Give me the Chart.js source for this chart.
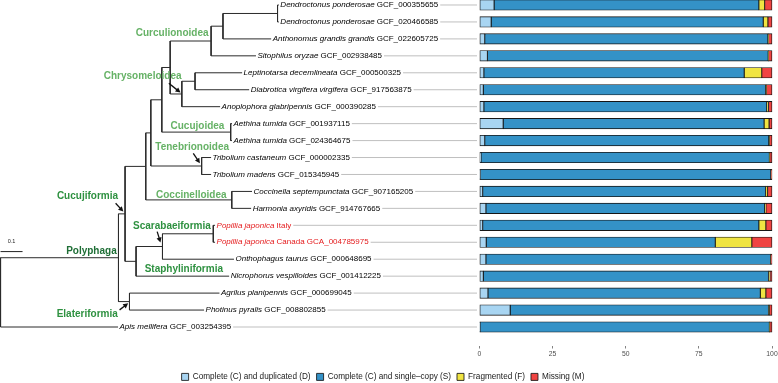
<!DOCTYPE html>
<html><head><meta charset="utf-8">
<script src="https://cdn.jsdelivr.net/npm/chart.js@4.4.1/dist/chart.umd.min.js"></script>
<style>
html,body{margin:0;padding:0;background:#fff;overflow:hidden;width:778px;height:383px}
#wrap{position:absolute;left:0;top:0;width:778px;height:391px}
</style></head><body>
<div id="wrap"><canvas id="c"></canvas></div>
<script>
// ---------- DATA ----------
const categories = ["Dendroctonus ponderosae","Dendroctonus ponderosae","Anthonomus grandis grandis","Sitophilus oryzae","Leptinotarsa decemlineata","Diabrotica virgifera virgifera","Anoplophora glabripennis","Aethina tumida","Aethina tumida","Tribolium castaneum","Tribolium madens","Coccinella septempunctata","Harmonia axyridis","Popillia japonica","Popillia japonica","Onthophagus taurus","Nicrophorus vespilloides","Agrilus planipennis","Photinus pyralis","Apis mellifera"];
const accessions = ["GCF_000355655","GCF_020466585","GCF_022605725","GCF_002938485","GCF_000500325","GCF_917563875","GCF_000390285","GCF_001937115","GCF_024364675","GCF_000002335","GCF_015345945","GCF_907165205","GCF_914767665","Italy","Canada GCA_004785975","GCF_000648695","GCF_001412225","GCF_000699045","GCF_008802855","GCF_003254395"];
const highlightRows = [13, 14];
const duplicated = [5.0, 4.0, 1.8, 2.7, 1.5, 1.3, 1.5, 8.1, 1.8, 0.5, 0.3, 1.1, 2.2, 1.1, 2.3, 2.2, 1.3, 2.9, 10.5, 0.2];
const singleCopy = [90.5, 93.0, 96.8, 96.0, 89.0, 96.5, 96.7, 89.2, 97.1, 98.6, 99.3, 96.7, 95.3, 94.4, 78.3, 97.3, 97.5, 93.1, 88.3, 98.9];
const fragmented = [2.0, 1.6, 0.2, 0.1, 6.0, 0.3, 0.6, 1.7, 0.2, 0.1, 0.1, 0.7, 0.4, 2.4, 12.5, 0.1, 0.5, 1.9, 0.3, 0.1];
const missing = [2.5, 1.4, 1.2, 1.2, 3.5, 1.9, 1.2, 1.0, 0.9, 0.8, 0.3, 1.5, 2.1, 2.1, 6.9, 0.4, 0.7, 2.1, 0.9, 0.8];
const seriesNames = ["Complete (C) and duplicated (D)","Complete (C) and single\u2013copy (S)","Fragmented (F)","Missing (M)"];
const xTicks = [0, 25, 50, 75, 100];
// tree: tip names are row indices, branch lengths in substitutions/site
const newick = "((((((((((0:0.006,1:0.006):0.248,2:0.219):0.054,3:0.204):0.186,((4:0.214,5:0.246):0.060,6:0.174):0.053):0.038,(7:0.006,8:0.006):0.313):0.050,(9:0.043,10:0.043):0.231):0.023,(11:0.092,12:0.088):0.391):0.094,(((13:0.008,14:0.008):0.231,15:0.325):0.120,16:0.423):0.050):0.030,(17:0.409,18:0.339):0.050):0.536,19:0.534);";
const scaleBarLength = 0.1;
const cladeNames = ["Curculionoidea","Chrysomeloidea","Cucujoidea","Tenebrionoidea","Coccinelloidea","Cucujiformia","Scarabaeiformia","Polyphaga","Staphyliniformia","Elateriformia"];

// ---------- LAYOUT / STYLE ----------
const FONT = "'Liberation Sans', Arial, Helvetica, sans-serif";
const cladeLayout = [
  {x:0.780, row:1.69, c:'light'},
  {x:0.646, row:4.19, c:'light', arrow:[0.765,4.62,0.818,5.17]},
  {x:0.895, row:7.14, c:'light'},
  {x:0.871, row:8.38, c:'light', arrow:[0.876,8.75,0.906,9.34]},
  {x:0.867, row:11.21, c:'light'},
  {x:0.395, row:11.27, c:'dark', arrow:[0.523,11.70,0.558,12.19]},
  {x:0.779, row:13.04, c:'dark', arrow:[0.712,13.37,0.727,14.01]},
  {x:0.413, row:14.51, c:'darker'},
  {x:0.833, row:15.58, c:'dark'},
  {x:0.394, row:18.26, c:'dark', arrow:[0.541,17.99,0.580,17.60]}
];
const cladeColors = {light:'#66b266', dark:'#2e9140', darker:'#1f6e36'};
const scaleBarPos = {x:0, row:14.55, labelRow:13.98};
const colors = ['#a8d5f2', '#3492c7', '#f0e442', '#f04442'];

// ---------- TREE PARSE ----------
function parseNewick(s){
  let i = 0;
  function node(){
    const n = {children:[]};
    if (s[i] === '('){
      i++; n.children.push(node());
      while (s[i] === ','){ i++; n.children.push(node()); }
      i++;
    }
    let name = '';
    while (i < s.length && !':,);'.includes(s[i])) name += s[i++];
    n.name = name;
    if (s[i] === ':'){ i++; let num=''; while (i < s.length && !',);'.includes(s[i])) num += s[i++]; n.len = parseFloat(num); }
    else n.len = 0;
    return n;
  }
  return node();
}
const root = parseNewick(newick);
const tips = [];
function layout(n, px){
  n.x = px + n.len;
  if (n.children.length){
    n.children.forEach(c => layout(c, n.x));
    n.y = (n.children[0].y + n.children[n.children.length-1].y)/2;
  } else { n.y = parseInt(n.name, 10); tips[n.y] = n; }
}
root.len = 0; layout(root, 0);
const treeSegs = [];
function segs(n, parent){
  if (parent){ treeSegs.push({x:parent.x, y:n.y},{x:n.x, y:n.y},{x:null, y:null}); }
  if (n.children.length){
    treeSegs.push({x:n.x, y:n.children[0].y},{x:n.x, y:n.children[n.children.length-1].y},{x:null,y:null});
    n.children.forEach(c => segs(c, n));
  }
}
segs(root, null);

// ---------- ANNOTATION PLUGIN ----------
function arrow(ctx, x1, y1, x2, y2){
  const a = Math.atan2(y2-y1, x2-x1), L = 5, W = 2.6;
  ctx.beginPath(); ctx.moveTo(x1,y1); ctx.lineTo(x2 - Math.cos(a)*L*0.8, y2 - Math.sin(a)*L*0.8); ctx.stroke();
  ctx.beginPath();
  ctx.moveTo(x2, y2);
  ctx.lineTo(x2 - L*Math.cos(a) + W*Math.sin(a), y2 - L*Math.sin(a) - W*Math.cos(a));
  ctx.lineTo(x2 - L*Math.cos(a) - W*Math.sin(a), y2 - L*Math.sin(a) + W*Math.cos(a));
  ctx.closePath(); ctx.fill();
}
const treePlugin = {
  id: 'treeAnno',
  afterLayout(chart){
    const lg = chart.legend;
    if (lg){ lg.left -= 6; lg.right -= 6; }
  },
  afterDatasetsDraw(chart){
    const ctx = chart.ctx, xt = chart.scales.xt, yt = chart.scales.yt, xb = chart.scales.x;
    ctx.save();
    ctx.textBaseline = 'middle';
    const barStart = xb.getPixelForValue(0) - 2.5;
    tips.forEach((t, r) => {
      const py = yt.getPixelForValue(r);
      let px = xt.getPixelForValue(t.x) + 1.5;
      const col = highlightRows.includes(r) ? '#e41a1c' : '#000';
      ctx.fillStyle = col; ctx.textAlign = 'left';
      ctx.font = "italic 8px " + FONT;
      ctx.fillText(categories[r], px, py);
      px += ctx.measureText(categories[r]).width;
      ctx.font = "8px " + FONT;
      px += ctx.measureText(' ').width;
      ctx.fillText(accessions[r], px, py);
      px += ctx.measureText(accessions[r]).width + 2;
      ctx.strokeStyle = '#a3a3a3'; ctx.lineWidth = 0.7;
      ctx.beginPath(); ctx.moveTo(px, py); ctx.lineTo(barStart, py); ctx.stroke();
    });
    // clade labels
    ctx.textAlign = 'center';
    ctx.font = "bold 10px " + FONT;
    cladeLayout.forEach((c, i) => {
      ctx.fillStyle = cladeColors[c.c];
      ctx.fillText(cladeNames[i], xt.getPixelForValue(c.x), yt.getPixelForValue(c.row));
      if (c.arrow){
        ctx.strokeStyle = '#111'; ctx.fillStyle = '#111'; ctx.lineWidth = 1.3;
        arrow(ctx, xt.getPixelForValue(c.arrow[0]), yt.getPixelForValue(c.arrow[1]), xt.getPixelForValue(c.arrow[2]), yt.getPixelForValue(c.arrow[3]));
      }
    });
    // scale bar
    const sy = yt.getPixelForValue(scaleBarPos.row);
    ctx.strokeStyle = '#222'; ctx.lineWidth = 1;
    ctx.beginPath(); ctx.moveTo(xt.getPixelForValue(scaleBarPos.x), sy); ctx.lineTo(xt.getPixelForValue(scaleBarPos.x + scaleBarLength), sy); ctx.stroke();
    ctx.fillStyle = '#222'; ctx.font = "5.5px " + FONT;
    ctx.fillText(String(scaleBarLength), xt.getPixelForValue(scaleBarPos.x + scaleBarLength/2), yt.getPixelForValue(scaleBarPos.labelRow));
    ctx.restore();
  }
};

// ---------- CHART ----------
const series = [duplicated, singleCopy, fragmented, missing];
const barSets = series.map((arr, k) => ({
  type: 'bar', label: seriesNames[k], indexAxis: 'y', grouped: false,
  data: arr.map((v, r) => ({x: v, y: r})),
  backgroundColor: colors[k], borderColor: '#161616', borderWidth: 0.85, borderSkipped: false,
  barThickness: 10.5, xAxisID: 'x', yAxisID: 'y', clip: false
}));
const treeSet = {
  type: 'line', label: 'tree', indexAxis: 'x', data: treeSegs, xAxisID: 'xt', yAxisID: 'yt',
  borderColor: '#2b2b2b', borderWidth: 1, pointRadius: 0, spanGaps: false, tension: 0, fill: false, clip: false
};
new Chart(document.getElementById('c'), {
  type: 'bar',
  data: { datasets: [...barSets, treeSet] },
  plugins: [treePlugin],
  options: {
    responsive: true, maintainAspectRatio: false, animation: false,
    layout: { padding: 0 },
    plugins: {
      legend: { position: 'bottom',
        labels: { filter: item => item.datasetIndex < 4, boxWidth: 7, boxHeight: 7, padding: 6,
          font: { family: FONT, size: 8.2 }, color: '#1a1a1a' } },
      tooltip: { enabled: false }
    },
    scales: {
      x: { type: 'linear', axis: 'x', stacked: true, min: -163.93, max: 100, position: 'bottom', offset: false,
        afterBuildTicks: s => { s.ticks = xTicks.map(v => ({value: v})); },
        afterFit: s => { s.height = 20.8; s.paddingLeft = 0; s.paddingRight = 6; },
        grid: { display: true, offset: false, drawOnChartArea: false, drawTicks: true, tickLength: 2.5, color: '#4d4d4d', lineWidth: 0.7 },
        border: { display: false },
        ticks: { padding: 1.5, font: { family: FONT, size: 6.8 }, color: '#4d4d4d', maxRotation: 0, autoSkip: false } },
      y: { type: 'linear', axis: 'y', stacked: true, reverse: true, min: -0.295, max: 20.121, display: false, offset: false, grid: { offset: false } },
      xt: { type: 'linear', axis: 'x', min: -0.0025, max: 3.5065, display: false, offset: false, grid: { offset: false } },
      yt: { type: 'linear', axis: 'y', reverse: true, min: -0.295, max: 20.121, display: false, offset: false, grid: { offset: false } }
    }
  }
});
</script>
</body></html>
